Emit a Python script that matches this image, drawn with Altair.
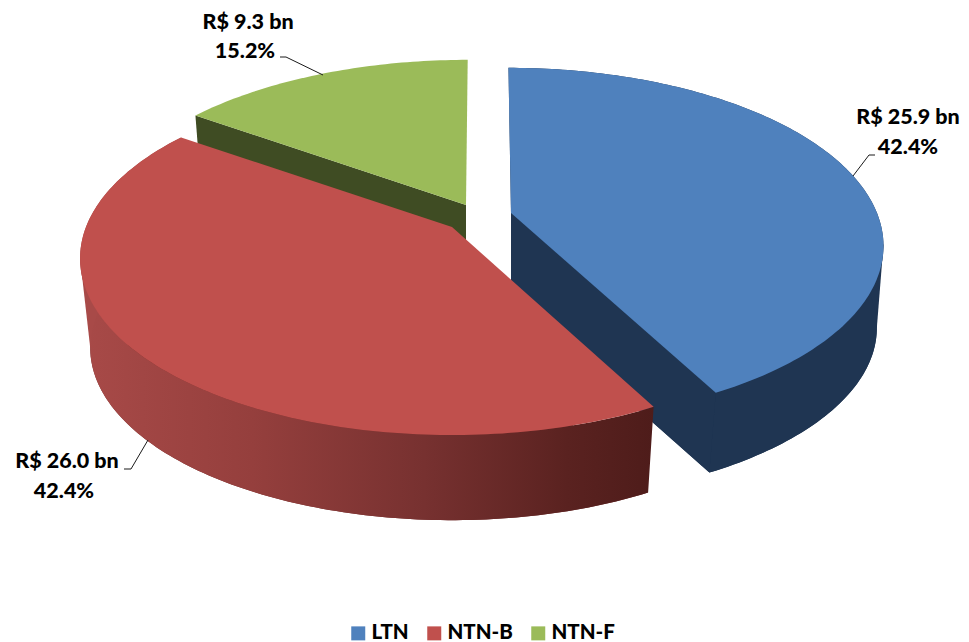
import math
import altair as alt
import pandas as pd

# --- chart values -----------------------------------------------------------
series = ["LTN", "NTN-B", "NTN-F"]
amounts = [25.9, 26.0, 9.3]
amount_labels = ["R$ 25.9 bn", "R$ 26.0 bn", "R$ 9.3 bn"]
share_labels = ["42.4%", "42.4%", "15.2%"]
top_colors = ["#4F81BD", "#C0504D", "#9BBB59"]
dark_colors = ["#1F3552", "#A84A48", "#3F4C23"]

# --- projection of the tilted 3-D pie (styling constants) -------------------
W, H = 953, 634
P = 0.178
B_TOP = 171
# exploded centre x, centre y, top radius, bottom radius, bottom drop, bottom b, top shear
GEOM = {
    "LTN": (511, 213, 366, 360, 84, 167, -3),
    "NTN-B": (452, 227, 366, 356, 90, 167, 0),
    "NTN-F": (466, 205, 367, 356, 90, 167, 2),
}

total = sum(amounts)
spans = {}
start = 0.0
for name, amount in zip(series, amounts):
    end = start + 360.0 * amount / total
    spans[name] = (start, end)
    start = end

# angles at which the projected rim reaches its far right and far left
EXTREME_RIGHT = math.degrees(math.acos(-P))
EXTREME_LEFT = 360 - EXTREME_RIGHT


def project(name, deg, level):
    cx, cy, a_top, a_bot, drop, b_bot, shear = GEOM[name]
    u, v = math.sin(math.radians(deg)), math.cos(math.radians(deg))
    w = 1 + P * v
    if level == "top":
        return cx + (a_top * u + shear * v) / w, cy - B_TOP * v / w
    return cx + a_bot * u / w, cy + drop - b_bot * v / w


def centre(name, level):
    cx, cy = GEOM[name][:2]
    drop = GEOM[name][4]
    return (cx, cy) if level == "top" else (cx, cy + drop)


def arc(name, level):
    d0, d1 = spans[name]
    n = max(2, int(abs(d1 - d0)))
    return [project(name, d0 + (d1 - d0) * i / n, level) for i in range(n + 1)]


def wedge(name, level):
    return [centre(name, level)] + arc(name, level)


def outer_wall(name):
    return arc(name, "top") + arc(name, "bottom")[::-1]


def radial_wall(name, deg):
    return [centre(name, "top"), project(name, deg, "top"),
            project(name, deg, "bottom"), centre(name, "bottom")]


x_scale = alt.Scale(domain=[8, 8 + W], range=[0, W], nice=False, zero=False)
y_scale = alt.Scale(domain=[8, 8 + H], range=[0, H], nice=False, zero=False)
X = alt.X("x:Q", scale=x_scale, axis=None)
Y = alt.Y("y:Q", scale=y_scale, axis=None)


def poly(points, fill):
    df = pd.DataFrame(points, columns=["x", "y"])
    df["i"] = range(len(df))
    return alt.Chart(df).mark_line(fill=fill, stroke="transparent", strokeWidth=0).encode(
        x=X, y=Y, order="i:Q"
    )


red_wall = alt.Gradient(
    gradient="linear", x1=0, x2=1, y1=0, y2=0,
    stops=[
        alt.GradientStop(offset=0.0, color="#A84A48"),
        alt.GradientStop(offset=0.3, color="#953F3D"),
        alt.GradientStop(offset=0.6, color="#773130"),
        alt.GradientStop(offset=0.85, color="#5A2220"),
        alt.GradientStop(offset=1.0, color="#4E1C1A"),
    ],
)

layers = []
# blue slice
blue_s, blue_e = spans["LTN"]
layers += [
    poly(wedge("LTN", "bottom"), dark_colors[0]),
    poly(radial_wall("LTN", EXTREME_RIGHT), dark_colors[0]),
    poly(outer_wall("LTN"), dark_colors[0]),
    poly(radial_wall("LTN", blue_e), dark_colors[0]),
    poly(radial_wall("LTN", blue_s), dark_colors[0]),
    poly(wedge("LTN", "top"), top_colors[0]),
]
# green slice
green_s, green_e = spans["NTN-F"]
layers += [
    poly(radial_wall("NTN-F", green_s), dark_colors[2]),
    poly(wedge("NTN-F", "top"), top_colors[2]),
]
# red slice
layers += [
    poly(wedge("NTN-B", "bottom"), "#722E2C"),
    poly(radial_wall("NTN-B", EXTREME_LEFT), dark_colors[1]),
    poly(outer_wall("NTN-B"), red_wall),
    poly(wedge("NTN-B", "top"), top_colors[1]),
]

# leader lines and data labels
leader_paths = {
    "LTN": [(853, 176), (869, 155), (875, 155)],
    "NTN-B": [(148, 440), (131, 469), (124, 469)],
    "NTN-F": [(323, 75), (286, 57), (280, 57)],
}
label_pos = {"LTN": (908, 908, 118, 148), "NTN-B": (67, 64, 462, 492), "NTN-F": (248, 245, 23, 52)}

lead_rows = []
for name, path in leader_paths.items():
    for i, (x, y) in enumerate(path):
        lead_rows.append({"x": x, "y": y, "s": name, "i": i})
layers.append(
    alt.Chart(pd.DataFrame(lead_rows)).mark_line(color="#1a1a1a", strokeWidth=1).encode(
        x=X, y=Y, detail="s:N", order="i:Q"
    )
)

text_rows = []
for name, a_lab, s_lab in zip(series, amount_labels, share_labels):
    x1, x2, y1, y2 = label_pos[name]
    text_rows.append({"x": x1, "y": y1, "t": a_lab})
    text_rows.append({"x": x2, "y": y2, "t": s_lab})
layers.append(
    alt.Chart(pd.DataFrame(text_rows)).mark_text(
        font="Lato", fontWeight=900, fontSize=21.5, color="#000000",
        align="center", baseline="middle",
    ).encode(x=X, y=Y, text="t:N")
)

# legend from the series
legend_df = pd.DataFrame({"series": series, "x": [8.0] * 3, "y": [8.0] * 3})
layers.append(
    alt.Chart(legend_df).mark_square(size=1, opacity=0).encode(
        x=X, y=Y,
        color=alt.Color(
            "series:N",
            scale=alt.Scale(domain=series, range=top_colors),
            legend=alt.Legend(
                title=None, orient="none", legendX=340, legendY=615,
                direction="horizontal", symbolType="square", symbolSize=196,
                symbolOpacity=1, symbolStrokeWidth=0, labelFont="Lato",
                labelFontWeight=900, labelFontSize=20.5, labelColor="#000000",
                columnPadding=15, labelOffset=3, padding=0,
            ),
        ),
    )
)

chart = (
    alt.layer(*layers)
    .properties(width=W, height=H, padding=0, background="#FFFFFF",
                autosize=alt.AutoSizeParams(type="none"))
    .configure_view(stroke="transparent", strokeWidth=0)
)
chart.save("out.html", embed_options={"renderer": "svg", "actions": False})
